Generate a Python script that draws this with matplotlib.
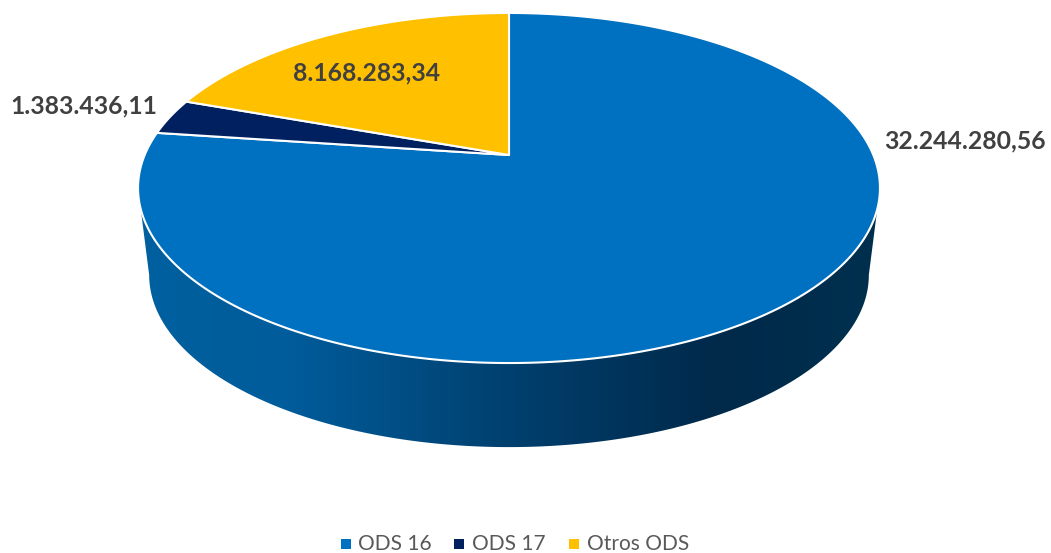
import matplotlib
matplotlib.use('Agg')
import matplotlib.pyplot as plt
import matplotlib.colors as mcolors
from matplotlib.patches import Polygon, Rectangle
import numpy as np

plt.rcParams['font.family'] = ['Lato', 'DejaVu Sans']

categories = ['ODS 16', 'ODS 17', 'Otros ODS']
values = [32244280.56, 1383436.11, 8168283.34]
value_labels = ['32.244.280,56', '1.383.436,11', '8.168.283,34']
colors = ['#0070C0', '#002060', '#FFC000']

# side shading, left to right
side_stops = [(0.0, '#00609F'), (0.2, '#005C9B'), (0.5, '#00406F'), (0.78, '#00294A'), (1.0, '#00304F')]

# perspective of the pie top, in pixels
cx, cy = 509, 155
a, b, k = 168.8, 364.3, 0.1886


def project(theta, y0=cy, sx=1.0, sy=1.0):
    # theta is clockwise from 12 o'clock
    u = np.sin(theta)
    v = np.cos(theta)
    w = 1 + k * v
    return cx + sx * b * u / w, y0 - sy * a * v / w


fig = plt.figure(figsize=(10.51, 5.53), dpi=100)
ax = fig.add_axes([0, 0, 1, 1])
ax.set_xlim(0, 1051)
ax.set_ylim(553, 0)
ax.axis('off')

# side of the pie: widest points of the top rim joined to a lower rim
widest = np.arccos(-k)
t = np.linspace(widest, 2 * np.pi - widest, 300)
x1, y1 = project(t)
x2, y2 = project(t[::-1], y0=cy + 87.6, sx=0.97, sy=0.983)
side = Polygon(np.column_stack([np.r_[x1, x2], np.r_[y1, y2]]), closed=True, facecolor='none', edgecolor='none')
ax.add_patch(side)
cmap = mcolors.LinearSegmentedColormap.from_list('side', side_stops)
im = ax.imshow(np.linspace(0, 1, 512).reshape(1, -1), cmap=cmap, extent=[138, 880, 460, 150], aspect='auto', zorder=1)
im.set_clip_path(side)
ax.set_xlim(0, 1051)
ax.set_ylim(553, 0)

# slices, clockwise from the top
total = sum(values)
start = 0
for val, col in zip(values, colors):
    end = start + val / total * 2 * np.pi
    t = np.linspace(start, end, 300)
    x, y = project(t)
    ax.fill(np.r_[cx, x], np.r_[cy, y], facecolor=col, edgecolor='white', linewidth=1.5, joinstyle='round', zorder=2)
    start = end

ax.text(1046, 141, value_labels[0], ha='right', va='center', fontsize=17.8, fontweight='bold', color='#404040')
ax.text(84, 106, value_labels[1], ha='center', va='center', fontsize=17.8, fontweight='bold', color='#404040')
ax.text(367, 73, value_labels[2], ha='center', va='center', fontsize=17.8, fontweight='bold', color='#404040')

# legend
leg_sq = [341, 454, 569]
leg_tx = [358, 472, 587]
for sq, tx, cat, col in zip(leg_sq, leg_tx, categories, colors):
    ax.add_patch(Rectangle((sq, 539), 10, 10, facecolor=col, edgecolor='none'))
    ax.text(tx, 544, cat, ha='left', va='center', fontsize=15, color='#595959')

fig.savefig('out.png', dpi=100)
